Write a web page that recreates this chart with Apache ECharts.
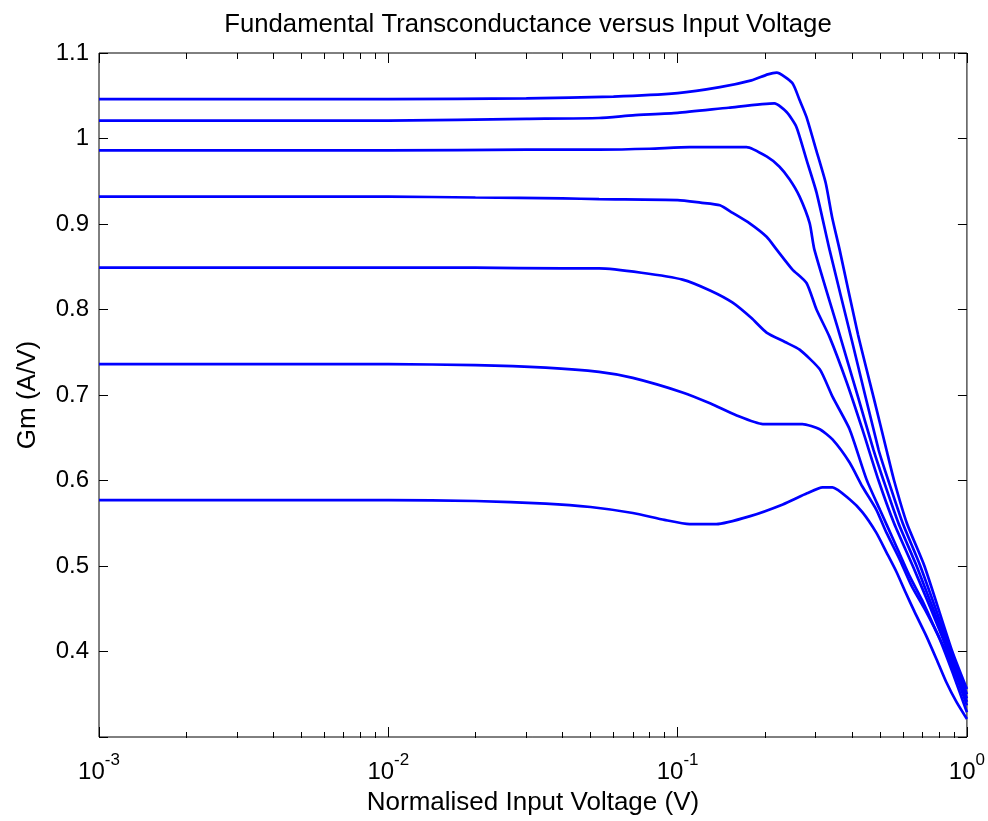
<!DOCTYPE html>
<html>
<head>
<meta charset="utf-8">
<title>Fundamental Transconductance versus Input Voltage</title>
<script src="https://cdn.jsdelivr.net/npm/echarts@6/dist/echarts.min.js"></script>
<style>
  html, body { margin: 0; padding: 0; background: #fff; }
  #chart { width: 988px; height: 821px; }
</style>
</head>
<body>
<div id="chart"></div>
<script>
// curves: [normalised input voltage, Gm]
const gm1046 = [[0.001,1.046],[0.01,1.046],[0.03,1.047],[0.06,1.049],[0.1,1.053],[0.14,1.06],[0.18,1.068],[0.205,1.075],[0.22,1.077],
  [0.249,1.065],[0.264,1.045],[0.279,1.025],[0.301,0.987],[0.325,0.948],[0.342,0.908],[0.363,0.870],[0.42,0.771],[0.48,0.692],
  [0.527,0.636],[0.56,0.6],[0.62,0.55],[0.713,0.5],[0.89,0.4],[1,0.356]];
const gm1021 = [[0.001,1.021],[0.01,1.021],[0.03,1.023],[0.0535,1.024],[0.07,1.027],[0.1,1.03],[0.15,1.036],[0.216,1.041],
  [0.238,1.031],[0.257,1.014],[0.279,0.975],[0.302,0.937],[0.335,0.870],[0.4,0.764],[0.495,0.636],[0.535,0.6],[0.6,0.55],
  [0.69,0.5],[0.88,0.4],[1,0.35]];
const gm0987 = [[0.001,0.986],[0.01,0.986],[0.03,0.987],[0.0535,0.987],[0.08,0.988],[0.11,0.99],[0.173,0.99],[0.203,0.979],
  [0.225,0.967],[0.244,0.952],[0.264,0.932],[0.286,0.901],[0.297,0.870],[0.36,0.775],[0.42,0.698],[0.475,0.636],[0.515,0.6],
  [0.58,0.55],[0.67,0.5],[0.87,0.4],[1,0.345]];
const gm0932 = [[0.001,0.932],[0.01,0.932],[0.02,0.931],[0.04,0.93],[0.0535,0.929],[0.1,0.928],[0.12,0.925],[0.14,0.922],
  [0.155,0.913],[0.177,0.901],[0.203,0.885],[0.22,0.870],[0.249,0.847],[0.279,0.831],[0.302,0.8],[0.335,0.768],[0.384,0.715],
  [0.435,0.66],[0.495,0.6],[0.56,0.55],[0.65,0.5],[0.75,0.45],[0.86,0.4],[0.93,0.37],[1,0.341]];
const gm0849 = [[0.001,0.849],[0.01,0.849],[0.02,0.849],[0.04,0.848],[0.0535,0.848],[0.075,0.843],[0.104,0.835],[0.13,0.822],
  [0.155,0.808],[0.18,0.79],[0.203,0.773],[0.235,0.762],[0.264,0.753],[0.31,0.73],[0.343,0.698],[0.393,0.66],[0.45,0.601],
  [0.5,0.566],[0.56,0.529],[0.63,0.49],[0.7,0.46],[0.78,0.425],[0.855,0.397],[0.93,0.366],[1,0.337]];
const gm0736 = [[0.001,0.736],[0.01,0.736],[0.02,0.735],[0.035,0.732],[0.0535,0.727],[0.07,0.72],[0.104,0.703],[0.13,0.69],
  [0.16,0.676],[0.197,0.666],[0.23,0.666],[0.27,0.666],[0.31,0.66],[0.343,0.648],[0.393,0.621],[0.435,0.593],[0.486,0.566],
  [0.527,0.539],[0.585,0.508],[0.643,0.477],[0.724,0.446],[0.804,0.415],[0.891,0.376],[1,0.329]];
const gm0577 = [[0.001,0.577],[0.005,0.577],[0.01,0.577],[0.02,0.576],[0.035,0.573],[0.05,0.569],[0.07,0.562],[0.09,0.554],
  [0.11,0.549],[0.136,0.549],[0.177,0.558],[0.231,0.572],[0.28,0.585],[0.317,0.592],[0.343,0.592],[0.393,0.578],[0.435,0.563],
  [0.486,0.539],[0.527,0.516],[0.571,0.493],[0.614,0.469],[0.66,0.446],[0.724,0.418],[0.785,0.391],[0.849,0.364],[0.92,0.341],[1,0.321]];

const curves = [gm1046, gm1021, gm0987, gm0932, gm0849, gm0736, gm0577];

// minor ticks of the log axis (2..9 x 10^n)
const minorTicks = [];
for (let e = -3; e < 0; e++) {
  for (let k = 2; k <= 9; k++) minorTicks.push(+(k * Math.pow(10, e)).toPrecision(3));
}

const FONT = 'Liberation Sans, Arial, sans-serif';
const chart = echarts.init(document.getElementById('chart'));

const noLine = { show: false };
const logX = (extra) => Object.assign({
  type: 'log', logBase: 10, min: 0.001, max: 1,
  axisLine: noLine, splitLine: noLine,
  axisLabel: { show: false }
}, extra);

chart.setOption({
  animation: false,
  backgroundColor: '#fff',
  title: {
    text: 'Fundamental Transconductance versus Input Voltage',
    left: 523, top: 7, textAlign: 'center',
    textStyle: { fontFamily: FONT, fontSize: 25.7, fontWeight: 'normal', color: '#000' }
  },
  grid: [
    { left: 99, right: 21, top: 53, bottom: 83, show: true, borderColor: '#000', borderWidth: 1, backgroundColor: '#fff' },
    { left: 99, right: 21, top: 53, bottom: 83 }
  ],
  xAxis: [
    logX({
      gridIndex: 0, position: 'bottom',
      axisTick: { inside: true, length: 10, lineStyle: { color: '#000' } },
      axisLabel: {
        show: true, margin: 15, fontFamily: FONT,
        formatter: (v) => '{b|10}{e|' + Math.round(Math.log10(v)) + '}',
        rich: {
          b: { fontSize: 24, lineHeight: 32, verticalAlign: 'bottom', color: '#000', fontFamily: FONT },
          e: { fontSize: 17, lineHeight: 17, verticalAlign: 'top', color: '#000', fontFamily: FONT }
        }
      },
      name: 'Normalised Input Voltage (V)', nameLocation: 'middle', nameGap: 53,
      nameTextStyle: { fontFamily: FONT, fontSize: 26, color: '#000' }
    }),
    logX({ gridIndex: 0, position: 'top', axisTick: { inside: true, length: 10, lineStyle: { color: '#000' } } }),
    logX({ gridIndex: 1, position: 'bottom', axisTick: { inside: true, length: 6, customValues: minorTicks, lineStyle: { color: '#000' } } }),
    logX({ gridIndex: 1, position: 'top', axisTick: { inside: true, length: 6, customValues: minorTicks, lineStyle: { color: '#000' } } })
  ],
  yAxis: [
    {
      type: 'value', gridIndex: 0, position: 'left', min: 0.3, max: 1.1, interval: 0.1,
      axisLine: noLine, splitLine: noLine,
      axisTick: { inside: true, length: 9, lineStyle: { color: '#000' } },
      axisLabel: {
        margin: 10, fontFamily: FONT, fontSize: 24, color: '#000',
        formatter: (v) => (Math.abs(v - 0.3) < 1e-6 ? '' : String(+v.toFixed(1)))
      },
      name: 'Gm (A/V)', nameLocation: 'middle', nameGap: 58, nameRotate: 90,
      nameTextStyle: { fontFamily: FONT, fontSize: 26, color: '#000' }
    },
    {
      type: 'value', gridIndex: 0, position: 'right', min: 0.3, max: 1.1, interval: 0.1,
      axisLine: noLine, splitLine: noLine, axisLabel: { show: false },
      axisTick: { inside: true, length: 9, lineStyle: { color: '#000' } }
    },
    { type: 'value', gridIndex: 1, min: 0, max: 1, show: false }
  ],
  series: curves.map((c) => ({
    type: 'line',
    xAxisIndex: 0, yAxisIndex: 0,
    data: c,
    showSymbol: false,
    smooth: 0.2,
    lineStyle: { color: '#0000ff', width: 2.7 },
    emphasis: { disabled: true }
  }))
});
</script>
</body>
</html>
